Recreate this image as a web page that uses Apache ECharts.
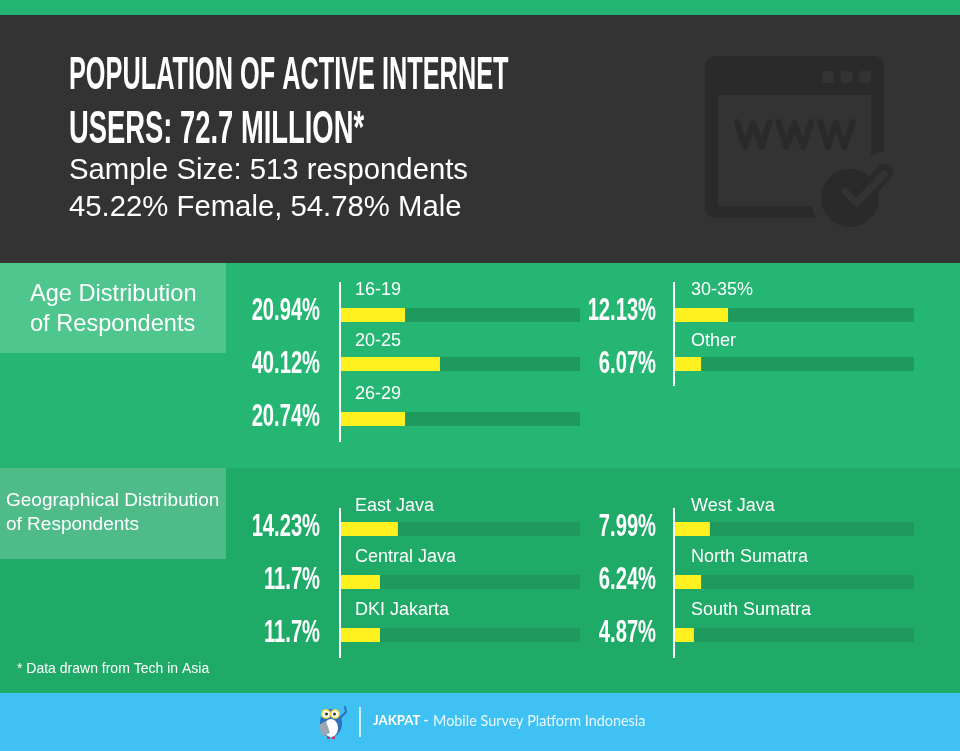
<!DOCTYPE html>
<html><head><meta charset="utf-8">
<style>html,body{margin:0;padding:0;background:#333}#c{width:960px;height:751px}</style>
<script src="https://cdn.jsdelivr.net/npm/echarts@6/dist/echarts.min.js"></script>
</head><body><div id="c"></div>
<script>
// ---- data ----
const ageLeftNames = ['16-19', '20-25', '26-29'];
const ageLeftLabels = ['20.94%', '40.12%', '20.74%'];
const ageLeftBars = [26.8, 41.4, 26.8];            // drawn length, % of the track
const ageRightNames = ['30-35%', 'Other'];
const ageRightLabels = ['12.13%', '6.07%'];
const ageRightBars = [22.2, 10.9];
const geoLeftNames = ['East Java', 'Central Java', 'DKI Jakarta'];
const geoLeftLabels = ['14.23%', '11.7%', '11.7%'];
const geoLeftBars = [23.8, 16.3, 16.3];
const geoRightNames = ['West Java', 'North Sumatra', 'South Sumatra'];
const geoRightLabels = ['7.99%', '6.24%', '4.87%'];
const geoRightBars = [14.6, 10.9, 7.9];

// ---- layout ----
const C = {top:'#23B574', dark:'#333333', age:'#25B674', geo:'#20AA68', ageBox:'#50C68F', geoBox:'#4FBB89',
  track:'#1F995E', bar:'#FFF01F', foot:'#3FC1F4', icon:'#2A2A2A'};
const panels = [
  {names:ageLeftNames, labels:ageLeftLabels, bars:ageLeftBars, left:341, pctX:320, nameX:14, pctY:[311,364,417], tops:[308,357,412], lift:[18,16,18], rule:[282,442]},
  {names:ageRightNames, labels:ageRightLabels, bars:ageRightBars, left:675, pctX:656, nameX:16, pctY:[311,364], tops:[308,357], lift:[18,16], rule:[282,386]},
  {names:geoLeftNames, labels:geoLeftLabels, bars:geoLeftBars, left:341, pctX:320, nameX:14, pctY:[527,580,633], tops:[522,575,628], lift:[16,18,18], rule:[508,658]},
  {names:geoRightNames, labels:geoRightLabels, bars:geoRightBars, left:675, pctX:656, nameX:16, pctY:[527,580,633], tops:[522,575,628], lift:[16,18,18], rule:[508,658]}
];
const SANS = '"Liberation Sans", Arial, sans-serif';

const g = [];
const rect = (x,y,w,h,fill,r) => g.push({type:'rect', z:0, shape:{x,y,width:w,height:h,r:r||0}, style:{fill}});
const circ = (cx,cy,r,fill,z) => g.push({type:'circle', z:z||1, shape:{cx,cy,r}, style:{fill}});
const ell = (cx,cy,rx,ry,fill) => g.push({type:'ellipse', z:1, shape:{cx,cy,rx,ry}, style:{fill}});
const line = (pts,stroke,w) => g.push({type:'polyline', z:1, shape:{points:pts}, style:{stroke,lineWidth:w,fill:null,lineCap:'round',lineJoin:'round'}});
const text = (t,x,y,font,opt) => g.push(Object.assign({type:'text', z:3, x, y, scaleX:(opt&&opt.sx)||1, scaleY:(opt&&opt.sy)||1,
  style:{text:t,x:0,y:0,font,fill:(opt&&opt.fill)||'#fff',align:(opt&&opt.align)||'left',verticalAlign:'middle'}}));

// backgrounds
rect(0,0,960,15,C.top); rect(0,15,960,248,C.dark);
rect(0,263,960,205,C.age); rect(0,468,960,225,C.geo); rect(0,693,960,58,C.foot);
rect(0,263,226,90,C.ageBox); rect(0,468,226,91,C.geoBox);

// header text
text('POPULATION OF ACTIVE INTERNET',69,76,'bold 46px '+SANS,{sx:0.55});
text('USERS: 72.7 MILLION*',69,130,'bold 46px '+SANS,{sx:0.595});
text('Sample Size: 513 respondents',69,171,'29.3px '+SANS);
text('45.22% Female, 54.78% Male',69,208,'29.3px '+SANS);
text('Age Distribution',30,294,'23.6px '+SANS);
text('of Respondents',30,324,'23.6px '+SANS);
text('Geographical Distribution',6,501,'19px '+SANS);
text('of Respondents',6,525,'19px '+SANS);
text('* Data drawn from Tech in Asia',17,669,'14px '+SANS);

// www icon
rect(705,56,179,162,C.icon,10);
rect(718,95,153,111,C.dark);
[828,846.5,865].forEach(x=>rect(x-6,71,12,12,C.dark,3));
[0,41.5,83].forEach(d=>line([[737+d,122],[745+d,147],[753+d,123],[761.5+d,147],[769.5+d,122]],C.icon,6));
circ(850,198,39,C.dark,1);
line([[850,198],[882,168]],C.dark,32);
circ(850,198,29,C.icon,2);
g.push({type:'polyline',z:2,shape:{points:[[856,203],[885,172]]},style:{stroke:C.icon,lineWidth:17,lineCap:'round',fill:null}});
g.push({type:'polyline',z:2,shape:{points:[[845,191],[856,203],[884,174]]},style:{stroke:C.dark,lineWidth:7,lineCap:'round',lineJoin:'round',fill:null}});

// owl and footer
ell(331,723,11,14,'#2D6FC0');
ell(331,728,7,9,'#fff');
line([[340,718],[346,712],[345,707]],'#2D6FC0',2);
circ(326,714,5,'#F4D13C');circ(335,714,5,'#F4D13C');
circ(326,714,3.5,'#fff',2);circ(335,714,3.5,'#fff',2);
circ(326.5,714,1.5,'#333',3);circ(334.5,714,1.5,'#333',3);
g.push({type:'polygon',z:2,shape:{points:[[319,725],[326,721],[330,733],[322,736]]},style:{fill:'#9DA7AE'}});
rect(327,736,3,3,'#C9356B');rect(332,736,3,3,'#C9356B');
rect(359,707,2,30,'#CFEFFC');
text('JAKPAT -',373,721,'bold 13.2px Lato, sans-serif');
text('Mobile Survey Platform Indonesia',433,721,'14.4px Lato, sans-serif',{fill:'#EAF8FE'});

// rules, percent labels
panels.forEach(p=>{
  rect(p.left-2,p.rule[0],2,p.rule[1]-p.rule[0],'#fff');
  p.labels.forEach((t,i)=>text(t,p.pctX,p.pctY[i],'bold 31px '+SANS,{align:'right',sx:0.65}));
});

// one grid per bar
const grid=[],xAxis=[],yAxis=[],series=[];
panels.forEach(p=>p.bars.forEach((v,i)=>{
  const k=grid.length;
  grid.push({left:p.left,top:p.tops[i],width:239,height:14});
  xAxis.push({type:'value',gridIndex:k,min:0,max:100,show:false});
  yAxis.push({type:'category',gridIndex:k,data:[p.names[i]],show:false});
  series.push({type:'bar',xAxisIndex:k,yAxisIndex:k,data:[v],barWidth:14,silent:true,
    itemStyle:{color:C.bar},showBackground:true,backgroundStyle:{color:C.track},
    label:{show:true,formatter:p.names[i],position:[p.nameX,-p.lift[i]],verticalAlign:'middle',align:'left',
      color:'#fff',fontSize:18,fontFamily:SANS}});
}));

const chart=echarts.init(document.getElementById('c'),null,{width:960,height:751,renderer:'canvas'});
chart.setOption({animation:false,backgroundColor:C.dark,grid,xAxis,yAxis,series,graphic:{elements:g}});
</script></body></html>
